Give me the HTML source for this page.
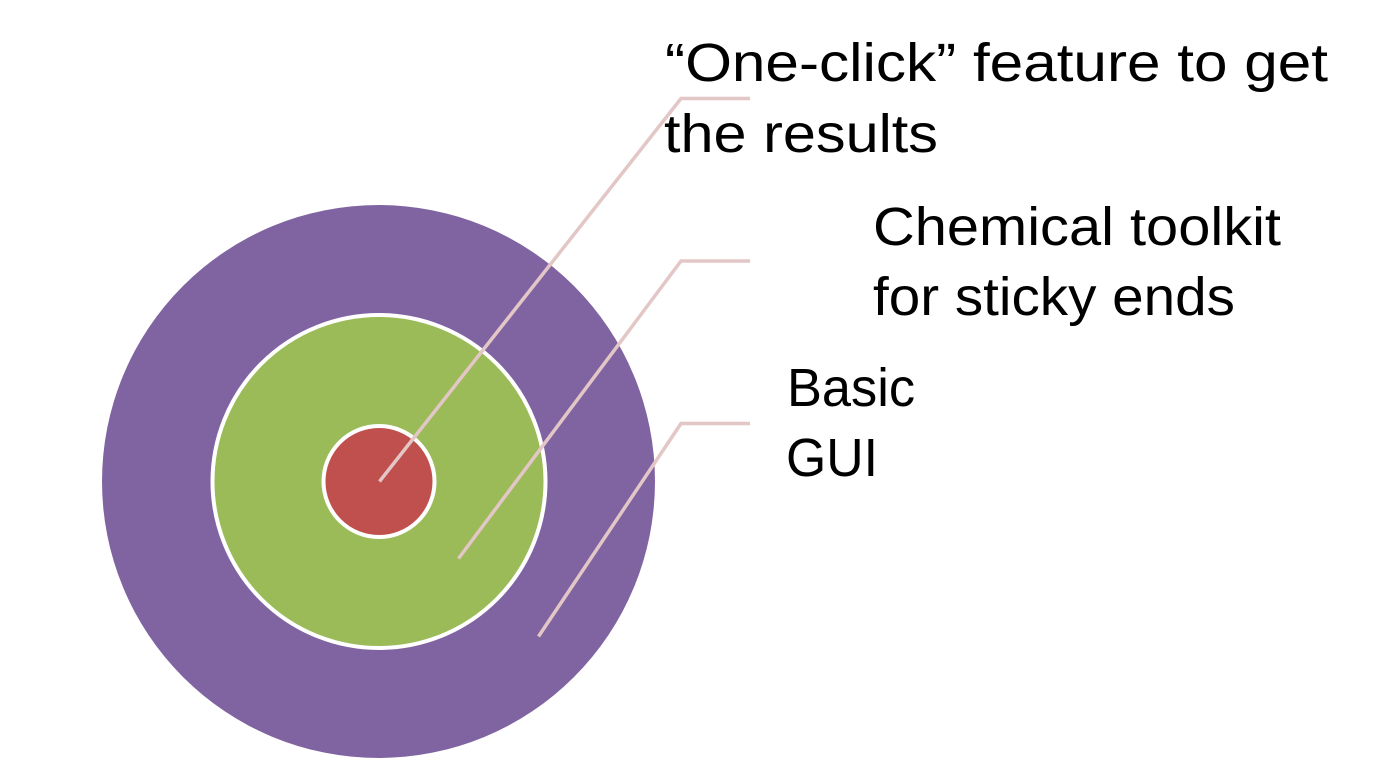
<!DOCTYPE html>
<html>
<head>
<meta charset="utf-8">
<style>
html,body{margin:0;padding:0;background:#fff;width:1384px;height:763px;overflow:hidden}
svg{display:block}
text{font-family:"Liberation Sans",sans-serif;font-size:54px;fill:#000}
</style>
</head>
<body>
<svg width="1384" height="763" viewBox="0 0 1384 763" xmlns="http://www.w3.org/2000/svg">
<rect width="1384" height="763" fill="#fff"/>
<circle cx="378.500" cy="481.500" r="276.500" fill="#8064a2"/>
<circle cx="379" cy="481.500" r="166.500" fill="#9bbb59" stroke="#fff" stroke-width="4"/>
<circle cx="379" cy="481.500" r="55.500" fill="#c0504d" stroke="#fff" stroke-width="4"/>
<g fill="none" stroke="#e3c6c6" stroke-width="3.500">
<polyline points="379.500,481.500 681,98.500 750,98.500"/>
<polyline points="458.500,558.500 681,261 750,261"/>
<polyline points="538.500,636.500 681,423.500 750,423.500"/>
</g>
<text x="665" y="81" textLength="663" lengthAdjust="spacingAndGlyphs">“One-click” feature to get</text>
<text x="664" y="152" textLength="274" lengthAdjust="spacingAndGlyphs">the results</text>
<text x="873" y="245" textLength="408" lengthAdjust="spacingAndGlyphs">Chemical toolkit</text>
<text x="873" y="315" textLength="362" lengthAdjust="spacingAndGlyphs">for sticky ends</text>
<text x="787" y="406" textLength="128" lengthAdjust="spacingAndGlyphs">Basic</text>
<text x="786" y="476" textLength="92" lengthAdjust="spacingAndGlyphs">GUI</text>
</svg>
</body>
</html>
